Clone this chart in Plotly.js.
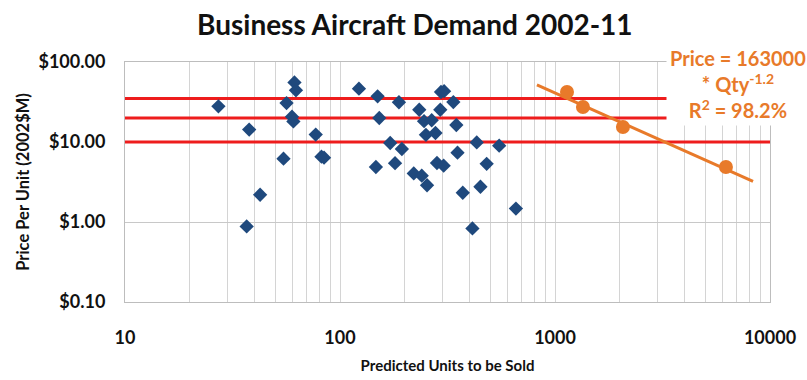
<!DOCTYPE html>
<html>
<head>
<meta charset="utf-8">
<script src="https://cdn.plot.ly/plotly-3.0.1.min.js"></script>
<style>html,body{margin:0;padding:0;background:#fff;}#chart{width:807px;height:380px;}</style>
</head>
<body>
<div id="chart"></div>
<script>
// Aircraft models: predicted units vs price (2002 $M)
const modelUnits = [27.2, 37.8, 42.5, 36.8, 54.6, 56.4, 61.4, 62.4, 59.8, 60.7, 77.1, 82.0, 84.3,
  122.5, 149.6, 152.3, 188, 171.2, 194, 146.9, 180.3, 220.3, 240, 254, 233.7, 246, 267, 251, 278,
  292.7, 295, 305, 336.6, 347.6, 282.5, 303.5, 352, 372.4, 432.5, 481, 450, 413, 550, 658];
const modelPrice = [27.9, 14.3, 2.19, 0.88, 6.18, 30.7, 55.6, 44.2, 20.7, 18.1, 12.4, 6.55, 6.37,
  46.4, 37.2, 19.95, 31.4, 9.72, 8.18, 4.87, 5.43, 4.05, 3.79, 2.88, 25.3, 18.2, 18.7, 12.3, 12.96,
  25.3, 42.2, 43.2, 31.6, 16.3, 5.46, 5.06, 7.35, 2.32, 9.89, 5.33, 2.76, 0.83, 8.99, 1.47];

// Orange series (fitted group)
const fitUnits = [1137, 1349, 2070, 6237];
const fitPrice = [42.2, 27.4, 15.4, 4.87];

// Trend line endpoints
const trendUnits = [824, 8340];
const trendPrice = [51.6, 3.21];

// Horizontal reference price levels
const priceLevels = [35, 20, 10];
const levelSpan = [10, 10000];

// Axis ticks
const xTickVals = [10,20,30,40,50,60,70,80,90,100,200,300,400,500,600,700,800,900,1000,2000,3000,4000,5000,6000,7000,8000,9000,10000];
const xTickText = ["10","","","","","","","","","100","","","","","","","","","1000","","","","","","","","","10000"];
const yTickVals = [0.1, 1, 10, 100];
const yTickText = ["$0.10", "$1.00", "$10.00", "$100.00"];

const titleText = "Business Aircraft Demand 2002-11";
const xTitle = "Predicted Units to be Sold";
const yTitle = "Price Per Unit (2002$M)";
const eqText = "Price = 163000<br>* Qty<sup>-1.2</sup><br>R<sup>2</sup> = 98.2%";

const RED = "rgb(238,28,28)";
const ORANGE = "rgb(232,122,42)";
const BLUE = "rgb(31,73,125)";
const FONT = "Lato, 'Open Sans', sans-serif";

const traces = [];
priceLevels.forEach(p => {
  traces.push({
    x: levelSpan, y: [p, p], mode: "lines", type: "scatter",
    line: {color: RED, width: 3}, hoverinfo: "skip", showlegend: false
  });
});
traces.push({
  x: modelUnits, y: modelPrice, mode: "markers", type: "scatter",
  marker: {symbol: "diamond", size: 11, color: BLUE}, showlegend: false
});
traces.push({
  x: trendUnits, y: trendPrice, mode: "lines", type: "scatter",
  line: {color: ORANGE, width: 3}, showlegend: false
});
traces.push({
  x: fitUnits, y: fitPrice, mode: "markers", type: "scatter",
  marker: {symbol: "circle", size: 14, color: ORANGE}, showlegend: false
});

const layout = {
  width: 807, height: 380,
  margin: {l: 125, r: 37, t: 62, b: 78},
  paper_bgcolor: "#fff", plot_bgcolor: "#fff",
  font: {family: FONT, color: "#1a1a1a"},
  title: {text: titleText, x: 0.514, xanchor: "center", y: 0.934, yanchor: "middle",
          font: {family: FONT, size: 28, color: "#111", weight: "bold"}},
  xaxis: {
    type: "log", range: [1, 4], tickvals: xTickVals, ticktext: xTickText,
    showgrid: true, gridcolor: "#d4d4d4", gridwidth: 1,
    showline: true, linecolor: "#bdbdbd", mirror: true, ticks: "",
    zeroline: false, tickfont: {family: FONT, size: 18, color: "#111", weight: "bold"},
    ticklabelstandoff: 19,
    title: {text: xTitle, standoff: 13, font: {family: FONT, size: 15, color: "#111", weight: "bold"}}
  },
  yaxis: {
    type: "log", range: [-1, 2], tickvals: yTickVals, ticktext: yTickText,
    showgrid: true, gridcolor: "#c8c8c8", gridwidth: 1,
    showline: true, linecolor: "#bdbdbd", mirror: true, ticks: "",
    zeroline: false, tickfont: {family: FONT, size: 18, color: "#111", weight: "bold"},
    ticklabelstandoff: 15,
    title: {text: yTitle, standoff: 4, font: {family: FONT, size: 16.5, color: "#111", weight: "bold"}}
  },
  annotations: [{
    xref: "paper", yref: "paper", x: 0.951, y: 0.91, xanchor: "center", yanchor: "middle",
    text: eqText, showarrow: false, align: "center", bgcolor: "#fff",
    borderpad: 3,
    font: {family: FONT, size: 20, color: ORANGE, weight: "bold"}
  }]
};

Plotly.newPlot("chart", traces, layout, {staticPlot: true, displayModeBar: false});
</script>
</body>
</html>
